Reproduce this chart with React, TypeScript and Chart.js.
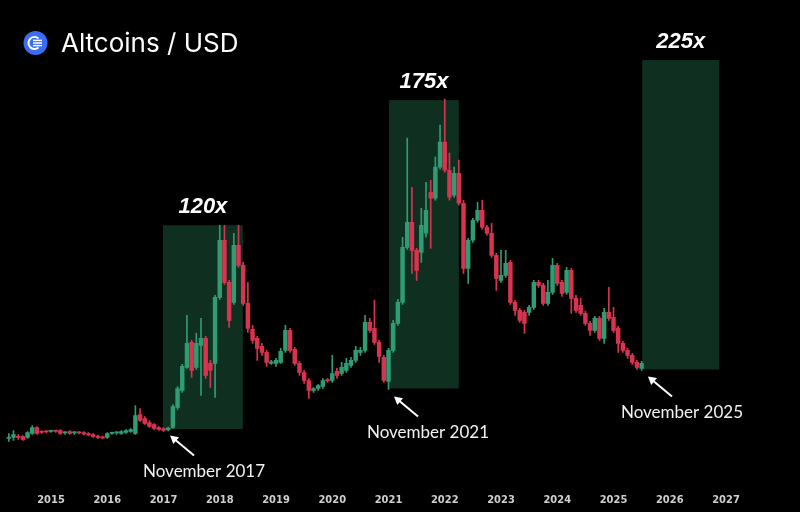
import React, { useEffect, useRef } from "react";
import { Chart, registerables } from "chart.js";

Chart.register(...registerables);

// Monthly candles, first candle = April 2014 (month index 3 of 2014)
const FIRST_YEAR = 2014;
const FIRST_MONTH_INDEX = 3;

// Altcoin index (arbitrary units) – monthly OHLC
const OPEN = [
  10.4, 10.6, 10.8, 10.8, 10.6, 11.4, 12.6, 11.8, 11.8, 11.8, 11.9, 12.0, 11.5, 11.8, 11.5, 11.6,
  11.6, 11.4, 11.2, 10.9, 10.7, 10.6, 11.4, 11.5, 11.4, 11.6, 11.8, 11.4, 15.2, 14.4, 13.6, 13.2,
  12.6, 12.4, 12.1, 12.6, 16.6, 20.0, 24.6, 29.6, 24.6, 29.0, 30.4, 25.4, 25.4, 38.6, 50.0, 41.6,
  37.6, 49.0, 45.0, 37.4, 32.2, 30.4, 28.8, 27.6, 25.4, 25.4, 25.6, 28.0, 32.0, 28.2, 25.4, 23.6,
  22.0, 20.0, 20.4, 20.8, 22.2, 22.0, 23.8, 23.4, 24.0, 25.0, 26.0, 27.6, 28.0, 33.6, 32.4, 29.6,
  26.6, 21.8, 28.0, 33.4, 37.6, 48.6, 53.6, 48.0, 47.6, 51.4, 59.6, 58.4, 64.6, 69.6, 64.0, 59.0,
  63.4, 57.4, 44.4, 50.0, 54.0, 56.0, 52.6, 51.4, 47.0, 42.0, 43.0, 45.6, 37.6, 36.0, 35.6, 35.6,
  36.6, 41.6, 41.0, 37.4, 39.6, 45.0, 41.6, 39.6, 44.0, 38.4, 37.0, 35.4, 33.4, 32.0, 34.4, 30.4,
  35.6, 34.6, 32.4, 29.4, 28.0, 27.0, 25.6, 24.4,
];
const HIGH = [
  11.4, 12.0, 11.2, 11.0, 11.8, 13.0, 12.8, 12.0, 12.0, 12.1, 12.1, 12.2, 11.8, 12.0, 11.8, 11.8,
  11.8, 11.6, 11.4, 11.1, 10.9, 11.6, 11.7, 11.8, 12.0, 12.2, 12.4, 17.0, 16.4, 14.8, 14.0, 13.4,
  12.8, 12.6, 12.7, 17.2, 20.8, 25.2, 35.0, 30.0, 31.4, 34.4, 30.8, 26.0, 39.0, 53.0, 53.0, 42.0,
  51.4, 53.0, 45.6, 41.6, 33.0, 30.8, 29.4, 28.0, 26.0, 26.4, 28.4, 33.0, 32.4, 28.6, 25.8, 24.0,
  22.4, 20.6, 21.2, 22.4, 22.4, 27.0, 24.4, 25.6, 26.4, 26.6, 28.8, 28.6, 35.0, 34.4, 38.0, 30.0,
  27.0, 28.4, 34.0, 38.2, 50.6, 70.4, 60.6, 48.4, 56.4, 61.6, 62.0, 66.6, 73.0, 78.2, 67.4, 64.6,
  66.0, 58.0, 50.4, 54.4, 57.6, 58.0, 53.0, 53.4, 47.4, 48.0, 48.0, 46.0, 38.0, 36.4, 36.0, 37.0,
  42.0, 42.0, 41.4, 42.0, 46.4, 45.4, 42.0, 44.6, 44.4, 39.0, 38.4, 35.8, 33.8, 34.8, 34.8, 36.4,
  40.6, 36.6, 32.8, 29.8, 28.4, 27.4, 26.0, 25.8,
];
const LOW = [
  9.8, 10.0, 10.2, 10.0, 10.4, 11.2, 11.2, 11.4, 11.5, 11.6, 11.6, 11.2, 11.2, 11.2, 11.2, 11.3,
  11.1, 10.9, 10.6, 10.4, 10.3, 10.4, 11.2, 11.2, 11.2, 11.4, 11.6, 11.2, 13.8, 13.2, 12.6, 12.2,
  12.0, 11.8, 11.9, 12.4, 16.2, 19.6, 24.4, 22.6, 24.2, 19.0, 22.4, 20.6, 18.6, 38.2, 41.2, 32.6,
  37.2, 44.6, 37.0, 31.6, 29.4, 26.0, 27.0, 24.8, 25.2, 24.8, 25.4, 27.6, 27.6, 25.0, 23.0, 21.4,
  18.4, 19.6, 20.0, 20.4, 21.6, 21.6, 22.4, 23.0, 23.6, 24.6, 25.6, 27.0, 27.6, 31.6, 29.2, 25.6,
  21.6, 20.2, 27.6, 33.0, 37.2, 48.2, 43.4, 42.0, 45.6, 50.6, 48.4, 58.0, 64.2, 63.6, 58.0, 58.6,
  57.0, 43.4, 41.4, 49.6, 53.6, 52.2, 51.0, 46.6, 40.0, 41.6, 42.6, 37.2, 35.0, 33.6, 31.4, 35.0,
  36.2, 40.6, 37.0, 37.0, 39.2, 41.0, 38.8, 39.2, 35.4, 35.6, 35.0, 33.0, 31.0, 31.6, 30.0, 29.4,
  34.0, 31.6, 27.6, 27.6, 26.4, 25.2, 24.2, 24.0,
];
const CLOSE = [
  10.6, 11.2, 10.6, 10.2, 11.6, 12.6, 11.4, 11.6, 11.7, 11.9, 11.8, 11.4, 11.6, 11.4, 11.6, 11.5,
  11.3, 11.1, 10.8, 10.6, 10.5, 11.4, 11.5, 11.6, 11.8, 12.0, 12.2, 15.0, 14.0, 13.4, 12.8, 12.4,
  12.2, 12.0, 12.5, 16.8, 20.4, 24.8, 29.4, 24.0, 29.4, 30.4, 23.0, 24.0, 38.6, 50.0, 41.6, 34.0,
  49.0, 45.0, 37.4, 32.4, 30.0, 28.4, 27.6, 25.6, 25.7, 26.0, 27.8, 32.0, 28.0, 25.4, 23.6, 22.0,
  20.0, 20.4, 21.0, 22.0, 21.9, 23.4, 23.0, 24.6, 25.4, 26.0, 28.0, 28.0, 33.6, 32.0, 29.6, 26.8,
  22.0, 28.0, 33.4, 37.6, 48.6, 53.6, 48.0, 44.0, 53.0, 56.0, 58.4, 64.6, 69.6, 64.0, 58.6, 63.4,
  57.4, 44.4, 50.0, 54.0, 56.0, 52.6, 51.4, 47.0, 42.4, 43.0, 45.4, 37.6, 36.0, 34.0, 33.4, 36.6,
  41.6, 41.0, 37.4, 39.6, 45.0, 41.4, 39.4, 44.0, 38.4, 36.0, 35.4, 33.4, 32.0, 34.4, 30.4, 35.6,
  34.4, 32.0, 29.4, 28.0, 27.0, 25.6, 24.6, 25.4,
];

const YEAR_TICKS = [2015, 2016, 2017, 2018, 2019, 2020, 2021, 2022, 2023, 2024, 2025, 2026, 2027];

// Highlighted rally windows
const BOX_START = [2016.99, 2021.01, 2025.51];
const BOX_END = [2018.41, 2022.25, 2026.88];
const BOX_LOW = [12.3, 20.4, 24.2];
const BOX_HIGH = [53.0, 78.0, 86.0];
const BOX_LABELS = ["120x", "175x", "225x"];

// Arrow callouts
const ARROW_X = [2017.116, 2021.098, 2025.613];
const ARROW_Y = [11.0, 18.8, 22.8];
const ARROW_LABELS = ["November 2017", "November 2021", "November 2025"];

const TITLE = "Altcoins / USD";

const X_MIN = 2015 - 51 / 56.25;
const X_MAX = X_MIN + 800 / 56.25;

const GREEN = "#2f9c74";
const RED = "#d8344f";
const BOX_COLOR = "#0f2f20";

const overlayPlugin = {
  id: "overlay",
  beforeDatasetsDraw(chart: any) {
    const { ctx, scales } = chart;
    const xs = scales.x;
    const ys = scales.y;
    ctx.save();
    ctx.fillStyle = BOX_COLOR;
    for (let i = 0; i < BOX_START.length; i++) {
      const x0 = xs.getPixelForValue(BOX_START[i]);
      const x1 = xs.getPixelForValue(BOX_END[i]);
      const y0 = ys.getPixelForValue(BOX_HIGH[i]);
      const y1 = ys.getPixelForValue(BOX_LOW[i]);
      ctx.fillRect(x0, y0, x1 - x0, y1 - y0);
    }
    ctx.restore();
  },
  afterDatasetsDraw(chart: any) {
    const { ctx, scales } = chart;
    const xs = scales.x;
    const ys = scales.y;
    ctx.save();
    // box labels
    ctx.fillStyle = "#ffffff";
    ctx.font = "italic bold 22px 'Liberation Sans', Arial, sans-serif";
    ctx.textAlign = "center";
    ctx.textBaseline = "middle";
    for (let i = 0; i < BOX_START.length; i++) {
      const cx = (xs.getPixelForValue(BOX_START[i]) + xs.getPixelForValue(BOX_END[i])) / 2;
      const top = ys.getPixelForValue(BOX_HIGH[i]);
      ctx.fillText(BOX_LABELS[i], cx, top - 18);
    }
    // arrows
    ctx.strokeStyle = "#ffffff";
    ctx.lineWidth = 2;
    ctx.font = "17px Lato, 'Noto Sans', sans-serif";
    for (let i = 0; i < ARROW_X.length; i++) {
      const hx = xs.getPixelForValue(ARROW_X[i]);
      const hy = ys.getPixelForValue(ARROW_Y[i]);
      const tx = hx + 24;
      const ty = hy + 20;
      ctx.beginPath();
      ctx.moveTo(tx, ty);
      ctx.lineTo(hx + 3, hy + 2.5);
      ctx.stroke();
      const ang = Math.atan2(hy - ty, hx - tx);
      const len = 8;
      const w = 4.5;
      const bx = hx - Math.cos(ang) * len;
      const by = hy - Math.sin(ang) * len;
      ctx.beginPath();
      ctx.moveTo(hx, hy);
      ctx.lineTo(bx + Math.sin(ang) * w, by - Math.cos(ang) * w);
      ctx.lineTo(bx - Math.sin(ang) * w, by + Math.cos(ang) * w);
      ctx.closePath();
      ctx.fillStyle = "#ffffff";
      ctx.fill();
      ctx.fillStyle = "#f2f2f2";
      ctx.fillText(ARROW_LABELS[i], hx + 34, hy + 36);
    }
    // title + icon
    const icx = 35.5;
    const icy = 43;
    ctx.fillStyle = "#3a6cf4";
    ctx.beginPath();
    ctx.arc(icx, icy, 12, 0, Math.PI * 2);
    ctx.fill();
    ctx.strokeStyle = "#ffffff";
    ctx.lineWidth = 2;
    ctx.beginPath();
    ctx.arc(icx - 1, icy, 6, Math.PI * 0.27, Math.PI * 1.73);
    ctx.stroke();
    ctx.lineWidth = 1.5;
    for (const dy of [-2.6, 0, 2.6]) {
      ctx.beginPath();
      ctx.moveTo(icx - 2.5, icy + dy);
      ctx.lineTo(icx + 6.5, icy + dy);
      ctx.stroke();
    }
    ctx.fillStyle = "#ffffff";
    ctx.font = "26px Inter, 'Noto Sans', sans-serif";
    ctx.textAlign = "left";
    ctx.textBaseline = "alphabetic";
    ctx.fillText(TITLE, 61, 52);
    ctx.restore();
  },
};

export default function App() {
  const ref = useRef<HTMLCanvasElement | null>(null);
  useEffect(() => {
    if (!ref.current) return;
    const xs = OPEN.map((_, i) => FIRST_YEAR + (FIRST_MONTH_INDEX + i) / 12);
    const colors = OPEN.map((o, i) => (CLOSE[i] >= o ? GREEN : RED));
    const chart = new Chart(ref.current, {
      type: "bar",
      data: {
        datasets: [
          {
            label: "wick",
            data: xs.map((x, i) => ({ x, y: [LOW[i], HIGH[i]] })) as any,
            backgroundColor: colors,
            barThickness: 1,
            grouped: false,
            order: 2,
          } as any,
          {
            label: "body",
            data: xs.map((x, i) => ({ x, y: [OPEN[i], CLOSE[i]] })) as any,
            backgroundColor: colors,
            barThickness: 3.8,
            minBarLength: 1.2,
            grouped: false,
            order: 1,
          } as any,
        ],
      },
      options: {
        responsive: false,
        maintainAspectRatio: false,
        animation: false,
        layout: { padding: { left: 0, right: 0, top: 0, bottom: 1.4 } },
        plugins: { legend: { display: false }, tooltip: { enabled: false } },
        scales: {
          x: {
            type: "linear",
            min: X_MIN,
            max: X_MAX,
            offset: false,
            grid: { display: false, drawTicks: false },
            border: { display: false },
            afterBuildTicks: (scale: any) => {
              scale.ticks = YEAR_TICKS.map((v) => ({ value: v }));
            },
            ticks: {
              autoSkip: false,
              maxRotation: 0,
              padding: 3.4,
              color: "#cfcfcf",
              font: { family: "'DejaVu Sans Condensed', 'DejaVu Sans', sans-serif", size: 11, weight: "bold" },
              callback: (v: any) => String(v),
            },
          },
          y: { display: false, min: 0, max: 98 },
        },
      } as any,
      plugins: [overlayPlugin],
    });
    return () => chart.destroy();
  }, []);
  return (
    <div style={{ position: "fixed", left: 0, top: 0, width: 800, height: 512, background: "#000" }}>
      <canvas ref={ref} width={800} height={512} style={{ display: "block" }} />
    </div>
  );
}
